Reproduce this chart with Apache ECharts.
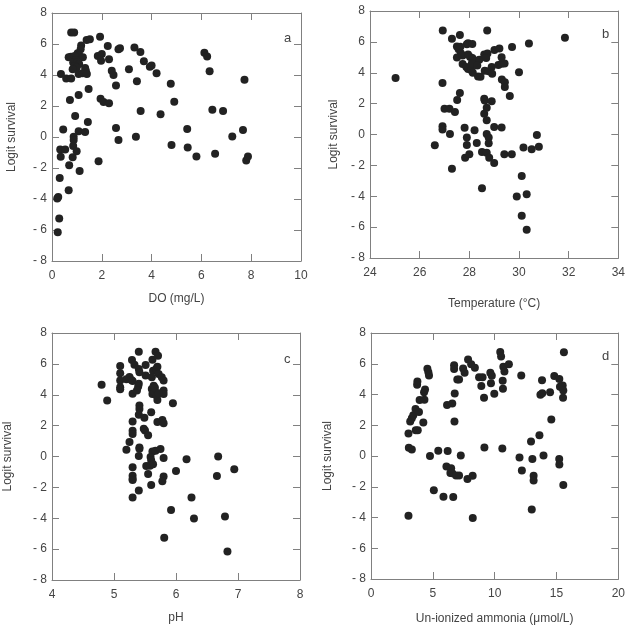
<!DOCTYPE html>
<html>
<head>
<meta charset="utf-8">
<script src="https://cdn.jsdelivr.net/npm/echarts@6/dist/echarts.min.js"></script>
<style>
  html, body { margin: 0; padding: 0; background: #fff; }
  #chart { width: 628px; height: 626px; }
</style>
</head>
<body>
<div id="chart"></div>
<script>
// Data: [x, logit survival]
var doData = [
    [0.77, 6.75], [0.89, 6.75], [1.93, 6.47], [1.39, 6.26], [1.52, 6.3], [1.17, 5.91], [1.15, 5.66],
    [1.03, 5.4], [1.09, 5.27], [1.24, 5.14], [0.67, 5.14], [0.76, 5.18], [0.91, 5.23], [0.96, 4.97],
    [0.85, 4.8], [1.01, 4.8], [1.09, 4.71], [0.91, 4.58], [0.99, 4.49], [0.83, 4.37], [1.33, 4.45],
    [1.36, 4.28], [1.07, 4.06], [1.23, 4.11], [1.4, 4.06], [0.36, 4.06], [0.57, 3.78], [0.77, 3.78],
    [1.47, 3.1], [1.07, 2.71], [0.72, 2.39], [0.93, 1.35], [1.44, 0.97], [0.45, 0.49], [1.07, 0.37],
    [1.33, 0.32], [0.87, 0.02], [0.87, -0.19], [0.85, -0.58], [0.33, -0.8], [0.53, -0.8], [0.35, -1.27],
    [0.83, -1.31], [0.99, -0.92], [0.69, -1.83], [1.11, -2.19], [0.31, -2.65], [0.67, -3.44],
    [0.21, -3.96], [0.25, -3.87], [0.29, -5.25], [0.23, -6.15], [1.87, -1.57], [1.84, 5.23],
    [2.0, 5.35], [1.97, 4.92], [2.24, 5.87], [2.29, 5.01], [2.4, 4.28], [2.47, 4.0], [2.57, 3.33],
    [2.67, 5.66], [2.73, 5.72], [1.95, 2.47], [2.07, 2.26], [2.29, 2.17], [2.57, 0.58], [2.67, -0.19],
    [3.09, 4.37], [3.31, 5.78], [3.55, 5.48], [3.69, 4.88], [3.93, 4.54], [4.0, 4.62], [4.2, 4.11],
    [3.41, 3.59], [3.56, 1.68], [3.37, 0.02], [4.36, 1.46], [4.77, 3.44], [4.91, 2.28], [4.8, -0.52],
    [5.43, 0.52], [5.45, -0.67], [5.8, -1.25], [6.12, 5.44], [6.23, 5.2], [6.33, 4.24], [6.44, 1.76],
    [6.87, 1.68], [6.55, -1.08], [7.24, 0.04], [7.67, 0.45], [7.73, 3.7], [7.8, -1.51], [7.87, -1.25]
];

var tempData = [
    [25.03, 3.66], [26.93, 6.73], [27.3, 6.2], [27.62, 6.45], [28.72, 6.73], [31.85, 6.26], [30.4, 5.89],
    [29.72, 5.66], [27.9, 5.85], [27.95, 5.91], [28.12, 5.87], [27.5, 5.7], [27.64, 5.68], [27.57, 5.52],
    [27.66, 5.27], [27.5, 4.98], [27.73, 5.12], [27.95, 5.18], [28.03, 5.02], [28.12, 4.95], [27.73, 4.56],
    [27.88, 4.38], [27.95, 4.24], [28.08, 4.17], [28.14, 4.0], [28.14, 4.88], [28.1, 4.6], [28.4, 4.84],
    [28.32, 4.47], [28.35, 3.76], [28.45, 3.74], [28.6, 5.18], [28.73, 5.24], [28.68, 4.95], [28.62, 4.13],
    [28.78, 4.1], [28.9, 4.37], [28.92, 3.94], [29.01, 5.48], [29.21, 5.57], [29.17, 4.5], [29.3, 4.58],
    [29.42, 4.6], [29.3, 5.0], [29.31, 3.57], [29.43, 3.38], [29.43, 3.07], [29.63, 2.49], [30.0, 4.04],
    [26.92, 3.33], [27.62, 2.69], [27.51, 2.24], [27.0, 1.67], [27.2, 1.67], [27.42, 1.46], [26.92, 0.54],
    [26.92, 0.32], [27.22, 0.03], [26.61, -0.7], [27.3, -2.22], [27.81, 0.43], [28.21, 0.28], [27.9, -0.2],
    [27.9, -0.68], [28.3, -0.55], [27.83, -1.5], [28.0, -1.28], [28.51, -1.13], [28.6, 2.32], [28.62, 2.2],
    [28.9, 2.16], [28.7, 1.73], [28.6, 1.34], [28.7, 0.93], [29.0, 0.49], [29.3, 0.46], [28.7, 0.03],
    [28.78, -0.2], [28.78, -0.56], [28.7, -1.18], [28.8, -1.5], [29.0, -1.85], [29.41, -1.28], [29.71, -1.28],
    [28.51, -3.48], [30.18, -0.85], [30.51, -0.95], [30.8, -0.8], [30.72, -0.04], [30.11, -2.69],
    [29.91, -4.02], [30.31, -3.87], [30.11, -5.27], [30.31, -6.17]
];

var phData = [
    [4.8, 4.65], [4.89, 3.62], [5.1, 5.87], [5.1, 5.39], [5.1, 4.93], [5.1, 4.48], [5.1, 4.36], [5.29, 6.25],
    [5.33, 5.94], [5.2, 5.01], [5.25, 5.15], [5.28, 4.95], [5.3, 4.89], [5.3, 4.07], [5.4, 6.78], [5.4, 5.66],
    [5.41, 5.46], [5.4, 4.72], [5.39, 4.54], [5.37, 4.27], [5.51, 5.93], [5.51, 5.24], [5.62, 6.27],
    [5.67, 6.78], [5.71, 6.53], [5.63, 5.56], [5.68, 5.66], [5.61, 5.13], [5.7, 5.82], [5.72, 5.34],
    [5.77, 5.13], [5.8, 4.92], [5.61, 4.37], [5.64, 4.59], [5.62, 4.05], [5.65, 4.16], [5.69, 3.94],
    [5.7, 3.66], [5.8, 4.27], [5.8, 4.05], [5.66, 4.45], [5.72, 4.1], [5.95, 3.45], [5.41, 3.3], [5.41, 3.08],
    [5.4, 2.71], [5.6, 2.86], [5.49, 2.51], [5.7, 2.24], [5.78, 2.37], [5.8, 2.16], [5.3, 2.26], [5.3, 1.67],
    [5.3, 1.46], [5.48, 1.79], [5.5, 1.69], [5.55, 1.37], [5.25, 0.94], [5.2, 0.43], [5.41, 0.59],
    [5.41, 0.5], [5.4, 0.03], [5.62, 0.33], [5.67, 0.38], [5.75, 0.49], [5.59, -0.04], [5.6, -0.26],
    [5.63, -0.5], [5.58, -0.6], [5.52, -0.62], [5.8, -0.09], [5.3, -0.7], [5.55, -1.13], [5.3, -1.24],
    [5.3, -1.45], [5.3, -1.52], [5.8, -1.29], [5.78, -1.6], [5.6, -1.84], [5.4, -2.2], [5.3, -2.65],
    [6.0, -0.94], [6.17, -0.18], [6.68, 0.0], [6.94, -0.82], [6.66, -1.27], [6.25, -2.66], [5.92, -3.46],
    [6.29, -4.02], [6.79, -3.88], [5.81, -5.27], [6.83, -6.16]
];

var ammoniaData = [
    [3.03, 1.47], [3.06, 0.54], [3.3, 0.43], [3.03, -3.88], [3.17, 2.24], [3.3, 2.46], [3.42, 2.65],
    [3.6, 3.06], [3.88, 2.86], [3.62, 1.68], [3.78, 1.68], [3.73, 4.63], [3.75, 4.85], [3.93, 3.64],
    [4.32, 3.66], [4.23, 2.18], [4.29, 4.14], [4.37, 4.33], [4.56, 5.67], [4.64, 5.45], [4.69, 5.24],
    [4.77, 0.0], [5.08, -2.22], [5.44, 0.34], [5.86, -2.65], [6.65, -2.67], [6.15, 3.32], [6.57, 3.42],
    [6.75, 2.24], [6.77, 4.07], [6.72, 5.9], [6.72, 5.66], [6.2, 0.33], [7.26, 0.03], [6.98, 4.97],
    [7.12, 4.97], [6.1, -0.69], [6.48, -0.8], [6.42, -1.1], [6.57, -1.12], [6.88, -1.27], [7.12, -1.27],
    [7.8, -1.49], [8.22, -1.29], [8.23, -4.03], [7.45, 5.69], [7.57, 5.42], [7.85, 6.27], [8.1, 5.96],
    [8.4, 5.74], [8.74, 5.12], [9.02, 5.12], [8.92, 4.55], [9.14, 3.79], [9.17, 0.55], [9.65, 5.42],
    [9.77, 5.22], [9.7, 4.73], [9.97, 4.05], [10.45, 6.77], [10.52, 6.47], [10.7, 5.8], [10.79, 5.5],
    [10.65, 4.89], [10.67, 4.38], [11.15, 5.96], [10.62, 0.48], [12.15, 5.23], [12.01, -0.1],
    [12.2, -0.94], [12.94, 0.94], [13.05, -0.19], [13.15, -1.29], [13.15, -1.6], [13.0, -3.48],
    [13.62, 1.35], [13.95, 0.03], [13.83, 4.92], [13.7, 3.99], [13.85, 4.08], [14.48, 4.14],
    [14.58, 2.38], [14.82, 5.2], [15.23, 5.01], [15.28, 4.5], [15.45, 4.45], [15.5, 4.58], [15.55, 4.26],
    [15.53, 3.79], [15.22, -0.2], [15.23, -0.55], [15.55, -1.88], [15.6, 6.75]
];

var panelLetters = ['a', 'b', 'c', 'd'];
var xNames = ['DO (mg/L)', 'Temperature (°C)', 'pH', 'Un-ionized ammonia (\u03bcmol/L)'];
var xRanges = [[0, 10, 2], [24, 34, 2], [4, 8, 1], [0, 20, 5]];
var yRange = [-8, 8, 2];
var yName = 'Logit survival';

var chart = echarts.init(document.getElementById('chart'));

var font = '"Liberation Sans", Arial, Helvetica, sans-serif';
var textColor = '#444';
var frameColor = '#808080';

// panel boxes
var grids = [
    { left: 52, top: 13, width: 249, height: 248 },
    { left: 370, top: 11, width: 249, height: 247 },
    { left: 52, top: 333, width: 248, height: 247 },
    { left: 371, top: 333, width: 248, height: 247 }
];
var xNameGaps = [32, 40, 32, 34];
var yNameGaps = [34, 30, 38, 37];
var letterPos = [[279, 27], [597, 23], [279, 348], [597, 345]];

var datasets = [doData, tempData, phData, ammoniaData];

function yFmt(v) {
    return v < 0 ? '- ' + Math.abs(v) : String(v);
}

var xAxes = [], yAxes = [], series = [], titles = [];

grids.forEach(function (g, i) {
    var xr = xRanges[i];
    var lineStyle = { color: frameColor, width: 1 };

    // main bottom axis
    xAxes.push({
        type: 'value', gridIndex: i, position: 'bottom',
        min: xr[0], max: xr[1], interval: xr[2],
        name: xNames[i], nameLocation: 'middle', nameGap: xNameGaps[i],
        nameTextStyle: { fontFamily: font, fontSize: 12, color: textColor },
        axisLine: { show: true, onZero: false, lineStyle: lineStyle },
        axisTick: { show: true, inside: true, length: 7, lineStyle: lineStyle },
        axisLabel: { fontFamily: font, fontSize: 12, color: textColor, margin: 9 },
        splitLine: { show: false }
    });
    // top mirror axis
    xAxes.push({
        type: 'value', gridIndex: i, position: 'top',
        min: xr[0], max: xr[1], interval: xr[2],
        axisLine: { show: true, onZero: false, lineStyle: lineStyle },
        axisTick: { show: true, inside: true, length: 7, lineStyle: lineStyle },
        axisLabel: { show: false },
        splitLine: { show: false }
    });
    // main left axis
    yAxes.push({
        type: 'value', gridIndex: i, position: 'left',
        min: yRange[0], max: yRange[1], interval: yRange[2],
        name: yName, nameLocation: 'middle', nameGap: yNameGaps[i],
        nameTextStyle: { fontFamily: font, fontSize: 12, color: textColor },
        axisLine: { show: true, onZero: false, lineStyle: lineStyle },
        axisTick: { show: true, inside: true, length: 7, lineStyle: lineStyle },
        axisLabel: { fontFamily: font, fontSize: 12, color: textColor, margin: 5, formatter: yFmt },
        splitLine: { show: false }
    });
    // right mirror axis
    yAxes.push({
        type: 'value', gridIndex: i, position: 'right',
        min: yRange[0], max: yRange[1], interval: yRange[2],
        axisLine: { show: true, onZero: false, lineStyle: lineStyle },
        axisTick: { show: true, inside: true, length: 7, lineStyle: lineStyle },
        axisLabel: { show: false },
        splitLine: { show: false }
    });

    series.push({
        type: 'scatter',
        xAxisIndex: i * 2,
        yAxisIndex: i * 2,
        symbolSize: 8,
        itemStyle: { color: '#222', opacity: 1 },
        data: datasets[i]
    });

    titles.push({
        text: panelLetters[i],
        left: letterPos[i][0], top: letterPos[i][1],
        textStyle: { fontFamily: font, fontSize: 13, fontWeight: 'normal', color: textColor }
    });
});

chart.setOption({
    animation: false,
    backgroundColor: '#fff',
    title: titles,
    grid: grids,
    xAxis: xAxes,
    yAxis: yAxes,
    series: series
});
</script>
</body>
</html>
